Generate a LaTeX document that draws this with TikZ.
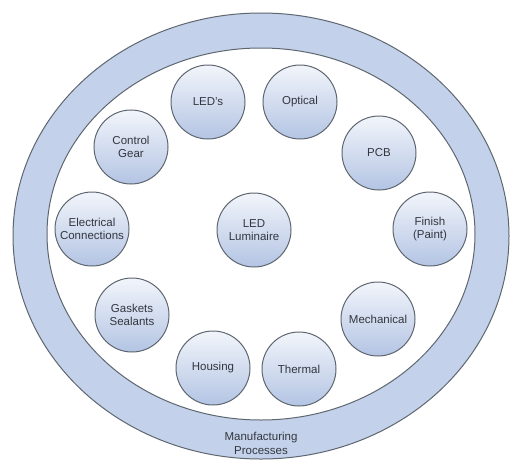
\documentclass[tikz,border=0pt]{standalone}
\usepackage{fontspec}
\setmainfont{Liberation Sans}
\definecolor{ringblue}{HTML}{C3D2EA}
\definecolor{edgegray}{HTML}{5E6670}
\definecolor{toptone}{HTML}{F2F5FB}
\definecolor{bottone}{HTML}{B3C4E3}
\definecolor{txtgray}{HTML}{33363F}
\tikzset{
  topic/.style={circle, minimum size=74pt, inner sep=0pt, draw=edgegray, line width=1pt,
    top color=toptone, bottom color=bottone, align=center, text=txtgray,
    font=\fontsize{11.5}{13.5}\selectfont},
  ring/.style={draw=edgegray, line width=1pt}
}
\begin{document}
\begin{tikzpicture}[x=1pt,y=-1pt]
\useasboundingbox (0,0) rectangle (511,461);
\fill[white] (0,0) rectangle (511,461);
\draw[ring, fill=ringblue] (261,236) ellipse [x radius=248, y radius=223];
\draw[ring, fill=white] (261,234) ellipse [x radius=214, y radius=186];
\node[align=center, text=txtgray, font=\fontsize{11.5}{14}\selectfont] (mp) at (261,443) {Manufacturing\\Processes};
\node[topic] (leds) at (208,102) {LED's};
\node[topic] (opt) at (300,102) {Optical};
\node[topic] (cg) at (131,147) {Control\\Gear};
\node[topic] (pcb) at (379,153) {PCB};
\node[topic] (ec) at (92,229) {Electrical\\Connections};
\node[topic] (lum) at (254,230) {LED\\Luminaire};
\node[topic] (fin) at (430,229) {Finish\\(Paint)};
\node[topic] (gs) at (132,315) {Gaskets\\Sealants};
\node[topic] (mech) at (378,319) {Mechanical};
\node[topic] (hous) at (213,368) {Housing};
\node[topic] (therm) at (299,369) {Thermal};
\end{tikzpicture}
\end{document}
